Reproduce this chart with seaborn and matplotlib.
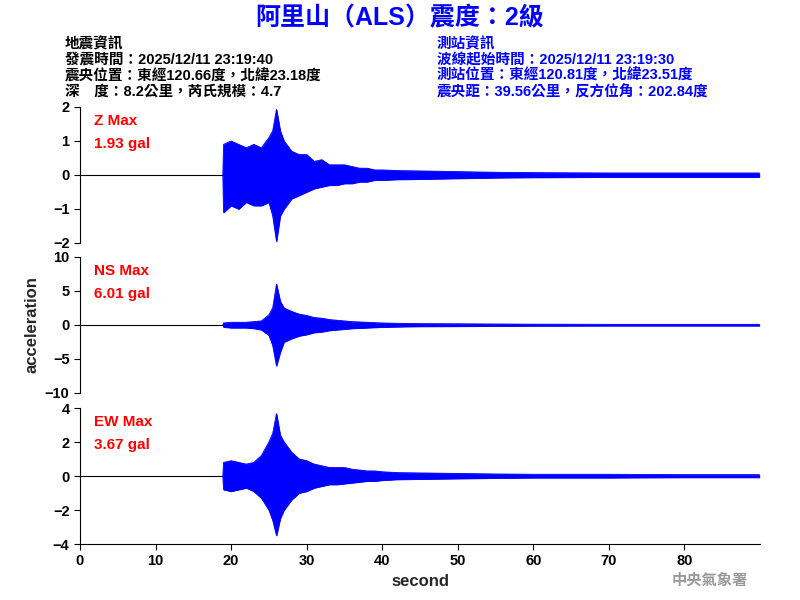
import matplotlib
matplotlib.use("Agg")
import matplotlib.pyplot as plt
import seaborn as sns
import numpy as np

sns.set_style("ticks")
plt.rcParams['font.family'] = ['Liberation Sans', 'Noto Sans CJK TC', 'DejaVu Sans']
plt.rcParams['font.weight'] = 'bold'

# envelope of the traces, read per second (gal)
sec = [18.9, 19, 20, 21, 22, 23, 24, 25, 25.5, 26, 26.5, 27, 28, 29, 30, 31, 32, 33, 34, 35, 36,
       37, 38, 39, 40, 42, 45, 50, 55, 60, 70, 80, 89.9]
z_up = [0, 0.9, 1.0, 0.9, 0.8, 0.9, 0.8, 1.1, 1.3, 1.93, 1.3, 1.0, 0.7, 0.6, 0.6, 0.4, 0.45,
        0.3, 0.3, 0.3, 0.25, 0.2, 0.2, 0.15, 0.15, 0.13, 0.12, 0.1, 0.08, 0.07, 0.06, 0.06, 0.06]
z_lo = [0, -1.1, -0.9, -1.0, -0.8, -0.9, -0.9, -0.8, -1.2, -1.95, -1.2, -1.0, -0.7, -0.6,
        -0.5, -0.4, -0.35, -0.3, -0.3, -0.25, -0.25, -0.2, -0.2, -0.15, -0.15, -0.13, -0.12,
        -0.1, -0.08, -0.07, -0.06, -0.06, -0.06]
ns_up = [0, 0.3, 0.4, 0.4, 0.4, 0.5, 0.6, 1.5, 2.5, 6.01, 3.5, 2.5, 2.0, 1.6, 1.4, 1.1, 1.0,
         0.8, 0.7, 0.6, 0.5, 0.45, 0.4, 0.35, 0.3, 0.25, 0.2, 0.18, 0.15, 0.12, 0.1, 0.1, 0.1]
ns_lo = [0, -0.3, -0.4, -0.4, -0.4, -0.5, -0.7, -1.5, -3.0, -6.0, -4.0, -2.5, -2.0, -1.6,
         -1.4, -1.1, -1.0, -0.8, -0.7, -0.6, -0.5, -0.45, -0.4, -0.35, -0.3, -0.25, -0.2,
         -0.18, -0.15, -0.12, -0.1, -0.1, -0.1]
ew_up = [0, 0.8, 0.9, 0.8, 0.7, 0.8, 1.2, 2.0, 2.5, 3.67, 2.4, 2.0, 1.4, 1.0, 0.9, 0.7, 0.6,
         0.5, 0.5, 0.5, 0.4, 0.35, 0.3, 0.3, 0.25, 0.2, 0.18, 0.15, 0.12, 0.1, 0.1, 0.08, 0.08]
ew_lo = [0, -0.8, -0.9, -0.8, -0.7, -0.9, -1.3, -2.0, -2.6, -3.5, -2.5, -2.0, -1.4, -1.0,
         -0.9, -0.7, -0.6, -0.5, -0.5, -0.45, -0.4, -0.35, -0.3, -0.3, -0.25, -0.2, -0.18,
         -0.15, -0.12, -0.1, -0.1, -0.08, -0.08]

panels = [("Z Max", "1.93 gal", z_up, z_lo, 2, [-2, -1, 0, 1, 2]),
          ("NS Max", "6.01 gal", ns_up, ns_lo, 10, [-10, -5, 0, 5, 10]),
          ("EW Max", "3.67 gal", ew_up, ew_lo, 4, [-4, -2, 0, 2, 4])]

fig = plt.figure(figsize=(8, 6), dpi=100)
tops = [107, 257, 408]
for i, (name, val, up, lo, lim, ticks) in enumerate(panels):
    ax = fig.add_axes([80 / 800, 1 - (tops[i] + 136) / 600, 680 / 800, 136 / 600])
    ax.axhline(0, color="black", lw=0.8, zorder=1)
    ax.fill_between(sec, lo, up, color="blue", lw=0.6, zorder=2)
    sns.lineplot(x=sec, y=up, ax=ax, color="blue", lw=0.6)
    sns.lineplot(x=sec, y=lo, ax=ax, color="blue", lw=0.6)
    ax.set_xlim(0, 90)
    ax.set_ylim(-lim, lim)
    ax.set_yticks(ticks)
    ax.tick_params(labelsize=10.5, length=4, colors="black")
    sns.despine(ax=ax, top=True, right=True, bottom=(i < 2))
    for s in ax.spines.values():
        s.set_color("black")
    if i < 2:
        ax.set_xticks([])
    else:
        ax.set_xticks(range(0, 90, 10))
        ax.set_xlabel("second", fontsize=12, fontweight="bold")
    ax.text(0.02, 0.95, name, color="red", fontsize=11, transform=ax.transAxes, va="top")
    ax.text(0.02, 0.78, val, color="red", fontsize=11, transform=ax.transAxes, va="top")
    if i == 1:
        ax.set_ylabel("acceleration", fontsize=12, fontweight="bold")

fig.text(0.5, 0.99, "阿里山（ALS）震度：2級", color="blue", fontsize=18,
         fontweight="bold", ha="center", va="top")
left = ["地震資訊", "發震時間：2025/12/11 23:19:40", "震央位置：東經120.66度，北緯23.18度",
        "深　度：8.2公里，芮氏規模：4.7"]
right = ["測站資訊", "波線起始時間：2025/12/11 23:19:30", "測站位置：東經120.81度，北緯23.51度",
         "震央距：39.56公里，反方位角：202.84度"]
for k in range(4):
    y = 1 - (44 + 16 * k) / 600
    fig.text(65 / 800, y, left[k], fontsize=10.5, va="center", color="black")
    fig.text(437 / 800, y, right[k], fontsize=10.5, va="center", color="blue")
fig.text(748 / 800, 1 - 580 / 600, "中央氣象署", fontsize=11, color="#999999",
         ha="right", va="center", fontweight="bold")
fig.savefig("out.png", dpi=100)
